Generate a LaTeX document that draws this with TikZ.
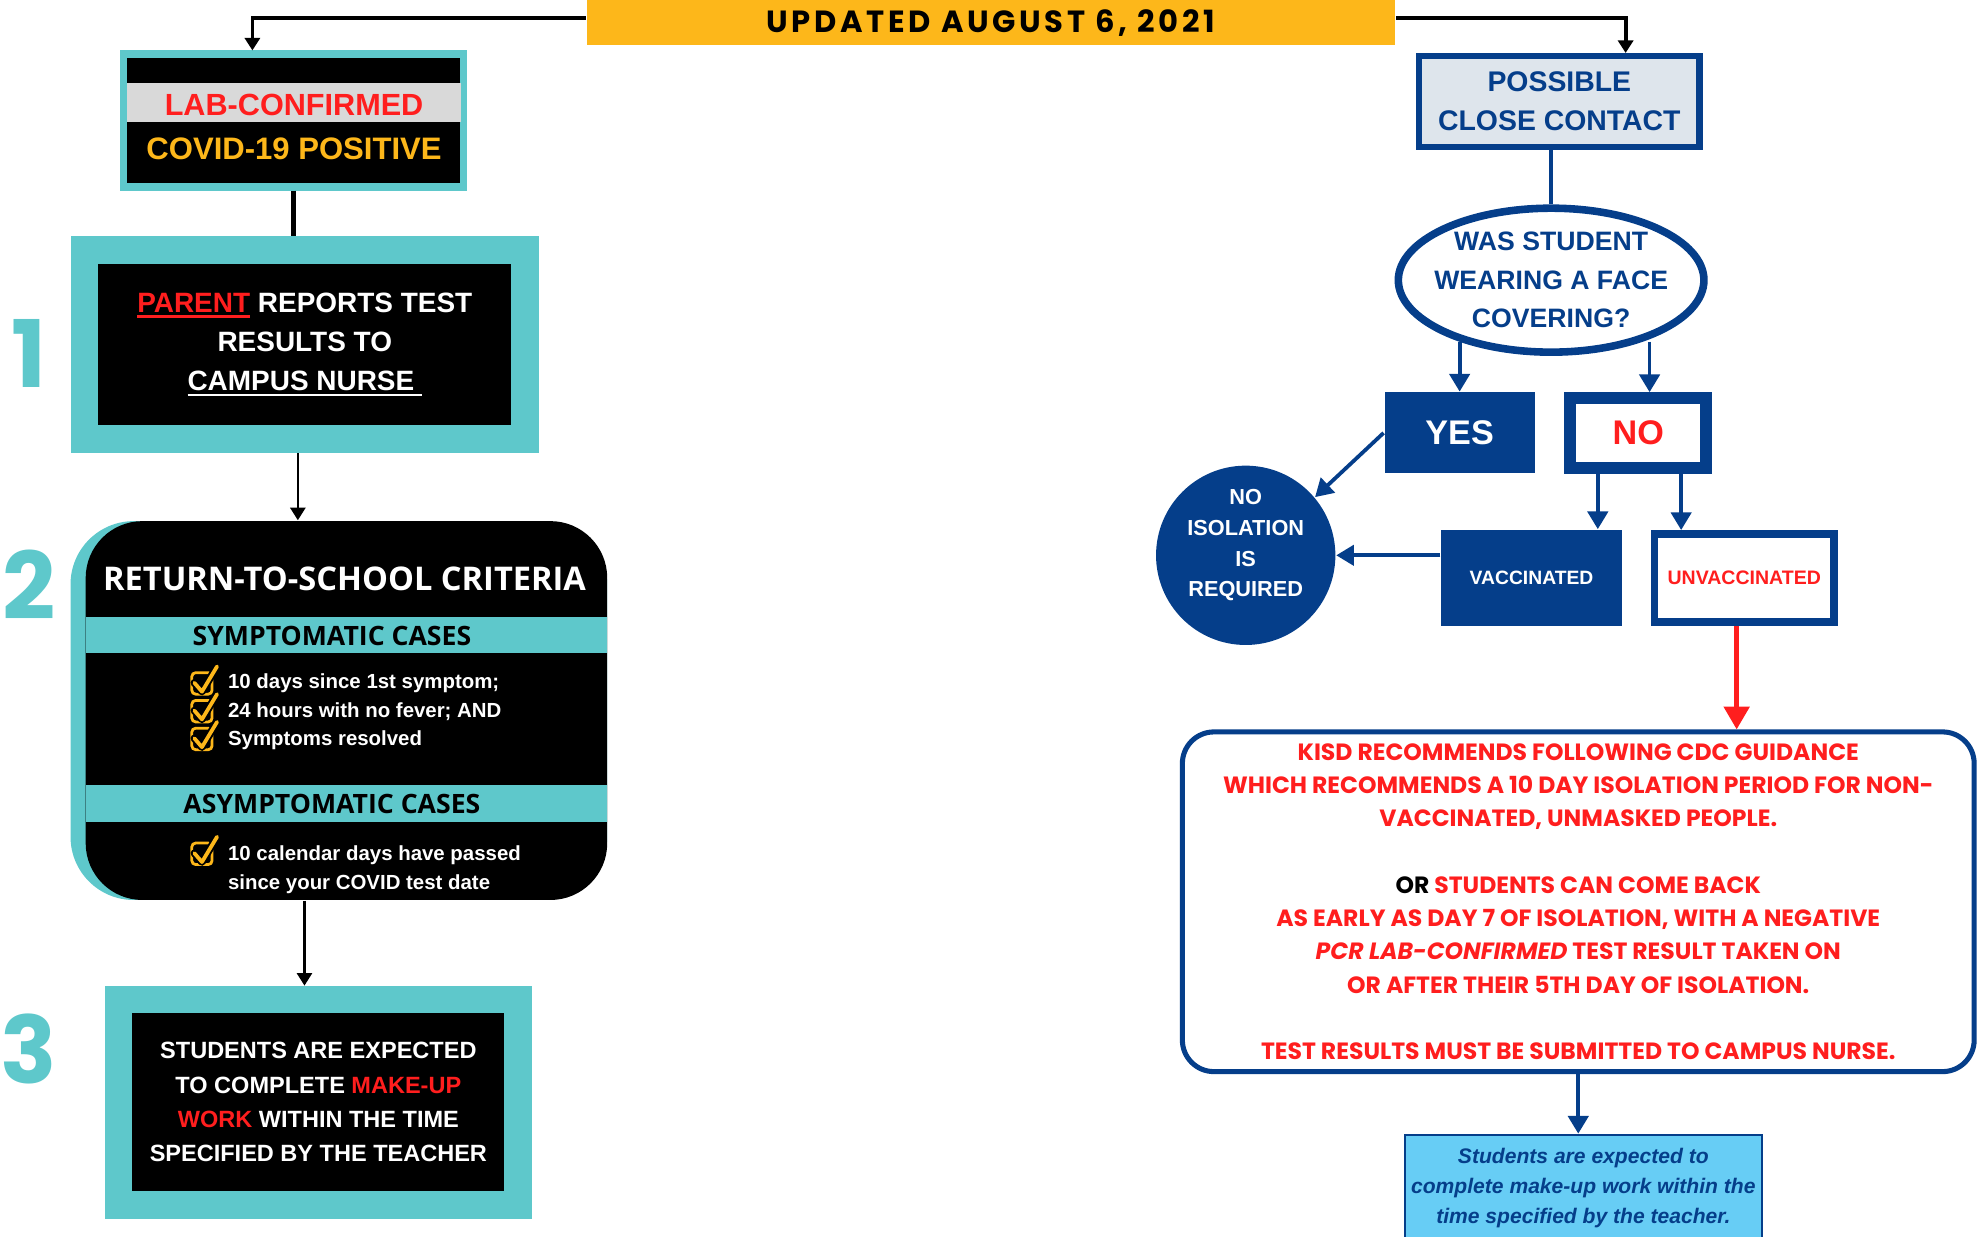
\documentclass[tikz,border=0pt]{standalone}
\usepackage{fontspec}
\setmainfont{Liberation Sans}
\newfontfamily\headfont{Open Sans}
\newfontfamily\geofont{Poppins}
\newfontfamily\bannerfont[LetterSpace=12]{Poppins}
\usetikzlibrary{arrows.meta,shapes.geometric}

\definecolor{tealc}{RGB}{94,200,203}
\definecolor{goldc}{RGB}{253,183,26}
\definecolor{alertred}{RGB}{255,30,30}
\definecolor{navyc}{RGB}{5,62,138}
\definecolor{bandgrey}{RGB}{217,217,217}
\definecolor{contactgrey}{RGB}{222,229,236}
\definecolor{noteblue}{RGB}{103,205,245}

\newcommand{\setfs}[2]{\fontsize{#1}{#2}\selectfont}
\newsavebox{\ulsave}
\newcommand{\ulbar}[1]{\sbox{\ulsave}{#1}\rlap{\rule[-1.1pt]{\wd\ulsave}{0.5pt}}\usebox{\ulsave}}

\begin{document}
\begin{tikzpicture}[x=0.01cm,y=-0.01cm,
  every node/.style={inner sep=0pt},
  framed/.style={draw=tealc, fill=black, text=white, align=center, line width=0.22cm},
  numst/.style={text=tealc, font=\geofont\bfseries\setfs{21}{21}},
  blkarr/.style={line width=0.03cm, -{Triangle[width=0.12cm,length=0.1cm]}},
  navarr/.style={draw=navyc, line width=0.03cm, -{Triangle[width=0.16cm,length=0.14cm]}},
  navbox/.style={fill=navyc, text=white, align=center},
  chk/.pic={
    \draw[goldc, line width=0.022cm, rounded corners=0.03cm] (-8,-8) rectangle (8,9);
    \draw[black, line width=0.06cm, line cap=round, line join=round] (-6,0) -- (0,7) -- (12,-13);
    \draw[goldc, line width=0.03cm, line cap=round, line join=round] (-6,0) -- (0,7) -- (12,-13);
  }]
\useasboundingbox (0,0) rectangle (1568,980);

% left column
\node [fill=goldc, minimum width=6.4cm, minimum height=0.36cm, font=\bannerfont\bfseries\setfs{6.9}{8}] (upd) at (785,18) {UPDATED AUGUST 6, 2021};

\node [framed, line width=0.06cm, minimum width=2.69cm, minimum height=1.05cm] (labbox) at (232.5,95.5) {};
\node [fill=bandgrey, minimum width=2.64cm, minimum height=0.31cm] (labband) at (233,81.5) {};
\node [text=alertred, font=\bfseries\setfs{6.9}{8}] (labtxt) at (233,83) {LAB-CONFIRMED};
\node [text=goldc, font=\bfseries\setfs{7}{8}] (postxt) at (233,118) {COVID-19 POSITIVE};

\node [framed, minimum width=3.49cm, minimum height=1.5cm, font=\bfseries\setfs{6.3}{8.8}] (rep) at (241.5,273)
  {\textcolor{alertred}{\ulbar{PARENT}} REPORTS TEST\\ RESULTS TO\\ \ulbar{CAMPUS NURSE\ }};

\node [fill=tealc, rounded corners=0.5cm, minimum width=4.25cm, minimum height=3cm] (critbg) at (268.5,563) {};
\node [fill=black, rounded corners=0.45cm, minimum width=4.13cm, minimum height=3cm] (crit) at (274.5,563) {};
\node [fill=tealc, minimum width=4.13cm, minimum height=0.28cm] (symband) at (274.5,503) {};
\node [fill=tealc, minimum width=4.13cm, minimum height=0.29cm] (asymband) at (274.5,636.5) {};
\node [text=white, font=\headfont\bfseries\setfs{7.35}{8}] (crittitle) at (273,459) {RETURN-TO-SCHOOL CRITERIA};
\node [font=\headfont\bfseries\setfs{6}{7}] (symtxt) at (263,504) {SYMPTOMATIC CASES};
\node [font=\headfont\bfseries\setfs{6}{7}] (asymtxt) at (263,637) {ASYMPTOMATIC CASES};

\pic at (160,541) {chk};
\pic at (160,563) {chk};
\pic at (160,585) {chk};
\pic at (160,676) {chk};
\node [anchor=west, align=left, text=white, font=\bfseries\setfs{4.6}{6.4}] (symlist) at (180,564)
  {10 days since 1st symptom;\\ 24 hours with no fever; AND\\ Symptoms resolved};
\node [anchor=west, align=left, text=white, font=\bfseries\setfs{4.6}{6.5}] (asymlist) at (180,689)
  {10 calendar days have passed\\ since your COVID test date};

\node [framed, minimum width=3.165cm, minimum height=1.625cm, font=\bfseries\setfs{5.3}{7.7}] (mkup) at (252.25,873.25)
  {STUDENTS ARE EXPECTED\\ TO COMPLETE \textcolor{alertred}{MAKE-UP}\\ \textcolor{alertred}{WORK} WITHIN THE TIME\\ SPECIFIED BY THE TEACHER};

\node [numst] (num1) at (23,280) {1};
\node [numst] (num2) at (23,463) {2};
\node [numst] (num3) at (23,831) {3};

\draw [blkarr] ([yshift=0.04cm]upd.west) -| ([xshift=-0.325cm]labbox.north);
\draw [line width=0.045cm] (labbox.south) -- (labbox.south |- rep.north);
\draw [blkarr, line width=0.02cm] ([xshift=-0.055cm]rep.south) -- ([xshift=-0.055cm]rep.south |- crit.north);
\draw [blkarr, line width=0.02cm] ([xshift=-0.11cm]mkup.north |- crit.south) -- ([xshift=-0.11cm]mkup.north);

% right column
\node [draw=navyc, fill=contactgrey, line width=0.05cm, minimum width=2.22cm, minimum height=0.72cm, text=navyc, align=center, font=\bfseries\setfs{6.4}{8.8}] (pcc) at (1235.5,80.5)
  {POSSIBLE\\ CLOSE CONTACT};
\node [ellipse, draw=navyc, fill=white, line width=0.06cm, inner xsep=-0.3cm, inner ysep=-0.2cm, minimum width=2.42cm, minimum height=1.14cm, text=navyc, align=center, font=\bfseries\setfs{6}{8.7}] (wear) at (1229,222)
  {WAS STUDENT\\ WEARING A FACE\\ COVERING?};
\node [navbox, minimum width=1.19cm, minimum height=0.64cm, font=\bfseries\setfs{7.7}{8}] (yes) at (1156.5,343) {YES};
\node [draw=navyc, fill=white, line width=0.095cm, minimum width=1.08cm, minimum height=0.555cm, text=alertred, font=\bfseries\setfs{7.7}{8}] (no) at (1298,343.25) {NO};
\node [circle, navbox, minimum size=1.42cm, font=\bfseries\setfs{4.9}{6.9}] (noiso) at (987,440)
  {NO\\ ISOLATION\\ IS\\ REQUIRED\\[-0.05cm]};
\node [navbox, minimum width=1.43cm, minimum height=0.76cm, font=\bfseries\setfs{4.35}{5}] (vac) at (1213.5,458) {VACCINATED};
\node [draw=navyc, fill=white, line width=0.06cm, minimum width=1.42cm, minimum height=0.7cm, text=alertred, font=\bfseries\setfs{4.4}{5}] (unvac) at (1382,458) {UNVACCINATED};

\node [draw=navyc, fill=white, line width=0.04cm, rounded corners=0.25cm, minimum width=6.27cm, minimum height=2.69cm, text=alertred, align=center, font=\geofont\bfseries\setfs{5.3}{7.5}] (kisd) at (1250.5,714.5)
  {KISD RECOMMENDS FOLLOWING CDC GUIDANCE\\ WHICH RECOMMENDS A 10 DAY ISOLATION PERIOD FOR NON-\\ VACCINATED, UNMASKED PEOPLE.\\[7.5pt]
   \textcolor{black}{OR} STUDENTS CAN COME BACK\\ AS EARLY AS DAY 7 OF ISOLATION, WITH A NEGATIVE\\ \textit{PCR LAB-CONFIRMED} TEST RESULT TAKEN ON\\ OR AFTER THEIR 5TH DAY OF ISOLATION.\\[7.5pt]
   TEST RESULTS MUST BE SUBMITTED TO CAMPUS NURSE.};
\node [draw=navyc, fill=noteblue, line width=0.015cm, minimum width=2.83cm, minimum height=0.85cm, text=navyc, align=center, font=\bfseries\itshape\setfs{4.75}{6.8}] (note) at (1254.5,941.5)
  {Students are expected to\\ complete make-up work within the\\ time specified by the teacher.};

\draw [blkarr] ([yshift=0.04cm]upd.east) -| ([xshift=0.525cm]pcc.north);
\draw [draw=navyc, line width=0.03cm] (wear.north |- pcc.south) -- (wear.north);
\draw [navarr] (yes.north |- wear.214) -- (yes.north);
\draw [navarr] ([xshift=0.09cm]no.north |- wear.326) -- ([xshift=0.09cm]no.north);
\draw [navarr] (yes.west) -- (noiso.40);
\draw [navarr] ([xshift=-0.32cm]no.south) -- ([xshift=-0.32cm]no.south |- vac.north);
\draw [navarr] ([xshift=0.34cm]no.south) -- ([xshift=0.34cm]no.south |- unvac.north);
\draw [navarr] (noiso.east -| vac.west) -- (noiso.east);
\draw [draw=alertred, line width=0.035cm, -{Triangle[width=0.2cm,length=0.18cm]}] ([xshift=-0.06cm]unvac.south) -- ([xshift=-0.06cm]unvac.south |- kisd.north);
\draw [navarr] (kisd.south) -- (kisd.south |- note.north);
\end{tikzpicture}
\end{document}
